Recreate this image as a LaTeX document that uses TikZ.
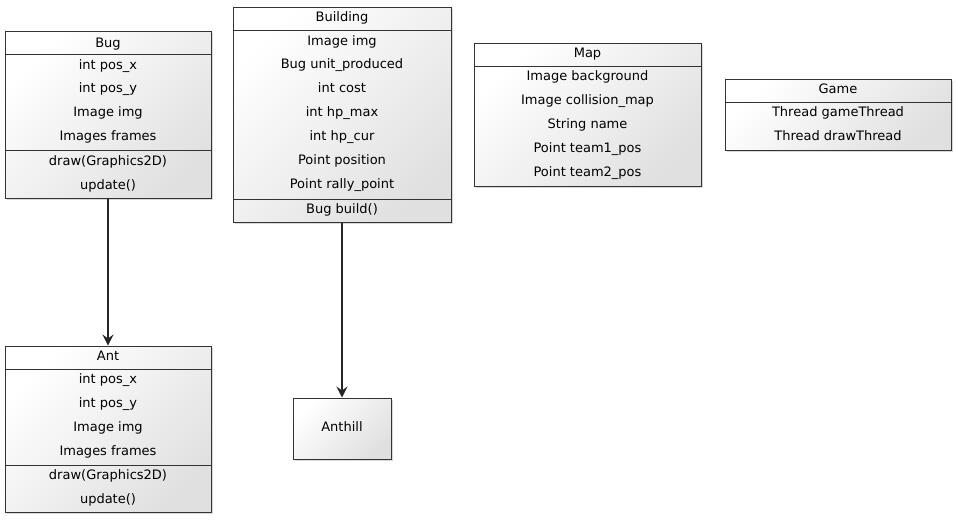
\documentclass[tikz,border=0pt]{standalone}
\usepackage{fontspec}
\setmainfont{DejaVu Sans}
\usetikzlibrary{shadows}
\usetikzlibrary{arrows.meta}

\begin{document}
\begin{tikzpicture}[x=1pt,y=-1pt,
  classbox/.style={draw=black!80, line width=1pt, top color=white, bottom color=black!12, shading angle=45,
    drop shadow={shadow xshift=2pt, shadow yshift=-2pt, opacity=0.3}, inner sep=0pt},
  member/.style={font=\fontsize{13}{15}\selectfont, inner sep=0pt, text height=10.5pt, text depth=2pt},
  sepline/.style={draw=black!80, line width=1pt},
  assoc/.style={draw=black!85, line width=1.3pt, -{Stealth[length=11pt, width=11pt, inset=4pt]}}]
\useasboundingbox (0,0) rectangle (957,520);

% class boxes
\node [classbox, minimum width=206pt, minimum height=167pt] (bug) at (108,114.5) {};
\node [classbox, minimum width=218pt, minimum height=215pt] (building) at (342,114.5) {};
\node [classbox, minimum width=227pt, minimum height=143pt] (map) at (587.5,114.5) {};
\node [classbox, minimum width=226pt, minimum height=71pt] (game) at (838,114.5) {};
\node [classbox, minimum width=206pt, minimum height=166pt] (ant) at (108,429) {};
\node [classbox, minimum width=98pt, minimum height=61pt] (anthill) at (342,428.5) {};

% compartment lines
\draw [sepline] (bug.west |- 0,54) -- (bug.east |- 0,54);
\draw [sepline] (bug.west |- 0,150) -- (bug.east |- 0,150);
\draw [sepline] (building.west |- 0,30) -- (building.east |- 0,30);
\draw [sepline] (building.west |- 0,199) -- (building.east |- 0,199);
\draw [sepline] (map.west |- 0,66) -- (map.east |- 0,66);
\draw [sepline] (game.west |- 0,102) -- (game.east |- 0,102);
\draw [sepline] (ant.west |- 0,369) -- (ant.east |- 0,369);
\draw [sepline] (ant.west |- 0,465) -- (ant.east |- 0,465);

% Bug
\node [member] (bugname) at (108,43) {Bug};
\node [member] (bugposx) at (108,65) {int pos\_x};
\node [member] (bugposy) at (108,88) {int pos\_y};
\node [member] (bugimg) at (108,112) {Image img};
\node [member] (bugframes) at (108,136) {Images frames};
\node [member] (bugdraw) at (108,161) {draw(Graphics2D)};
\node [member] (bugupdate) at (108,185) {update()};

% Building
\node [member] (buildingname) at (342,17) {Building};
\node [member] (buildingimg) at (342,41) {Image img};
\node [member] (buildingunit) at (342,64) {Bug unit\_produced};
\node [member] (buildingcost) at (342,88) {int cost};
\node [member] (buildinghpmax) at (342,112) {int hp\_max};
\node [member] (buildinghpcur) at (342,136) {int hp\_cur};
\node [member] (buildingpos) at (342,160) {Point position};
\node [member] (buildingrally) at (342,184) {Point rally\_point};
\node [member] (buildingbuild) at (342,209) {Bug build()};

% Map
\node [member] (mapname) at (587.5,53) {Map};
\node [member] (mapbg) at (587.5,76) {Image background};
\node [member] (mapcoll) at (587.5,100) {Image collision\_map};
\node [member] (mapstr) at (587.5,124) {String name};
\node [member] (mapteamone) at (587.5,148) {Point team1\_pos};
\node [member] (mapteamtwo) at (587.5,172) {Point team2\_pos};

% Game
\node [member] (gamename) at (838,89) {Game};
\node [member] (gamethread) at (838,112) {Thread gameThread};
\node [member] (gamedraw) at (838,136) {Thread drawThread};

% Ant
\node [member] (antname) at (108,356) {Ant};
\node [member] (antposx) at (108,379) {int pos\_x};
\node [member] (antposy) at (108,403) {int pos\_y};
\node [member] (antimg) at (108,427) {Image img};
\node [member] (antframes) at (108,451) {Images frames};
\node [member] (antdraw) at (108,475) {draw(Graphics2D)};
\node [member] (antupdate) at (108,499) {update()};

% Anthill
\node [member] (anthillname) at (342,427) {Anthill};

% associations
\draw [assoc] (bug.south) -- (ant.north);
\draw [assoc] (building.south) -- (anthill.north);
\end{tikzpicture}
\end{document}
